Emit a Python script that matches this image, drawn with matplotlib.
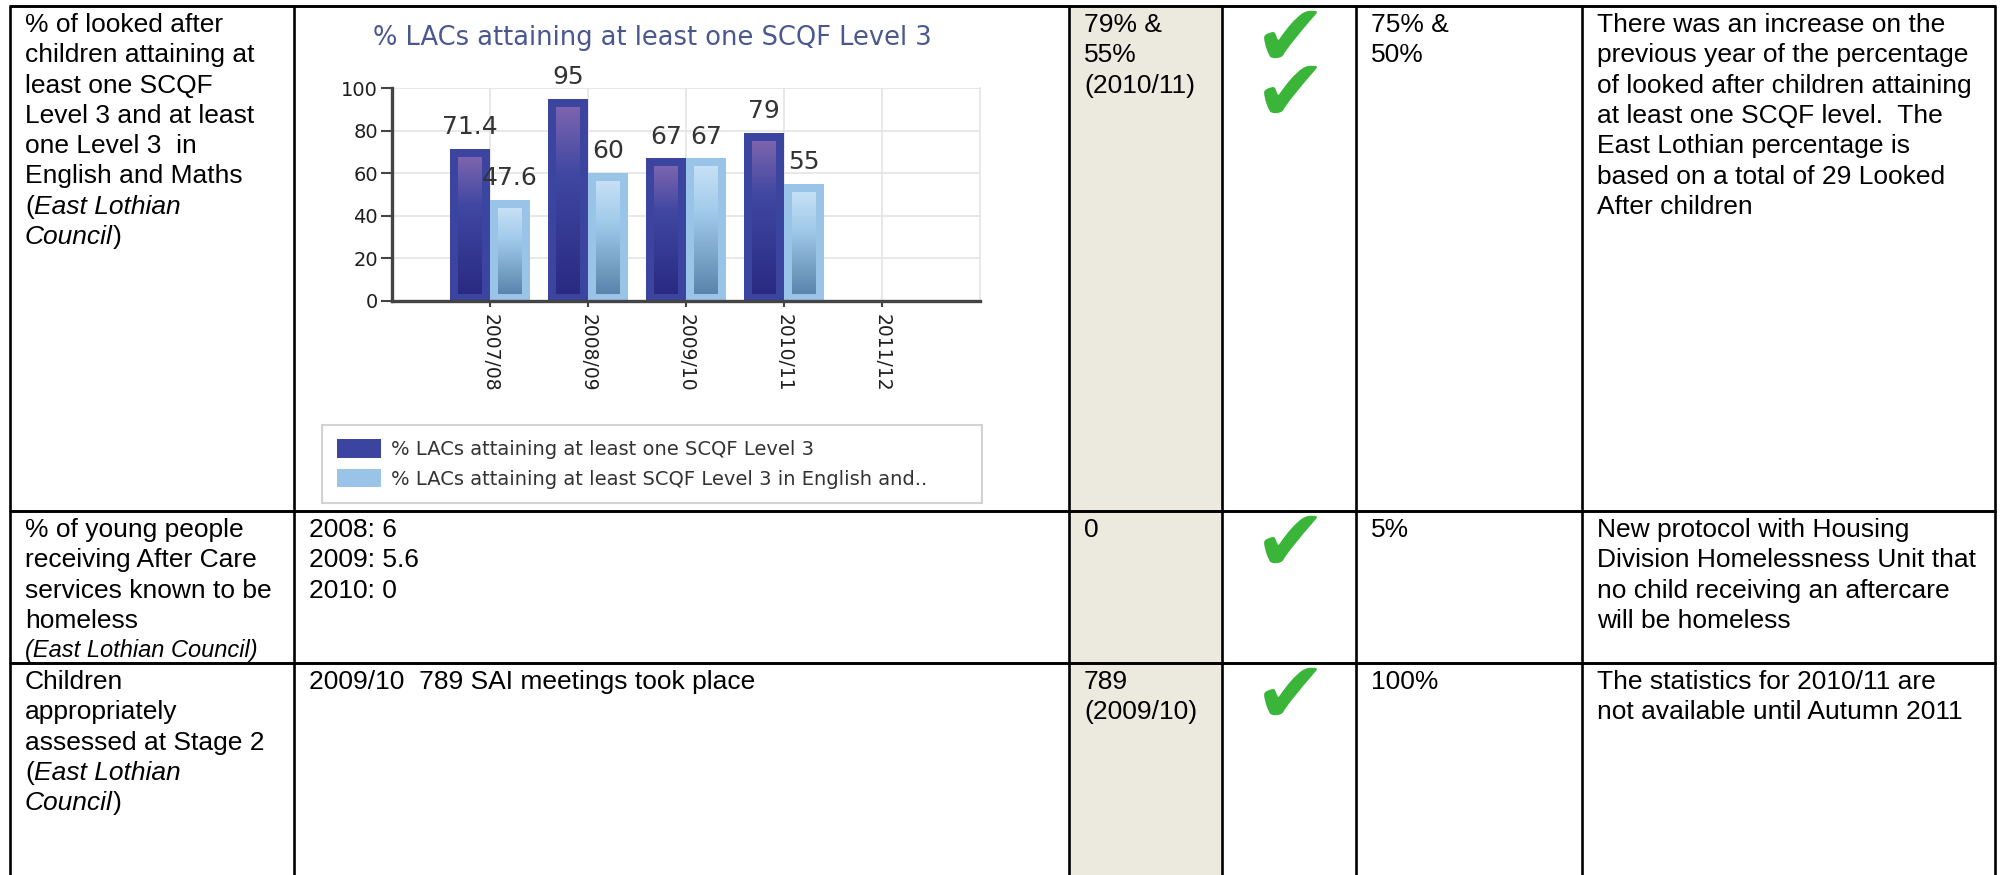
import matplotlib
matplotlib.use("Agg")
import matplotlib.pyplot as plt
import numpy as np
from matplotlib.colors import LinearSegmentedColormap

# chart data
years = ["2007/08", "2008/09", "2009/10", "2010/11", "2011/12"]
any_level3 = [71.4, 95, 67, 79]
eng_maths = [47.6, 60, 67, 55]
series_names = ["% LACs attaining at least one SCQF Level 3",
                "% LACs attaining at least SCQF Level 3 in English and.."]
chart_title = "% LACs attaining at least one SCQF Level 3"

# table text, one list of lines per cell (a line may be list of (text, style))
N, I = "normal", "italic"
row1 = {
    0: ["% of looked after", "children attaining at", "least one SCQF",
        "Level 3 and at least", "one Level 3  in", "English and Maths",
        [("(", N), ("East Lothian", I)], [("Council", I), (")", N)]],
    2: ["79% &", "55%", "(2010/11)"],
    4: ["75% &", "50%"],
    5: ["There was an increase on the", "previous year of the percentage",
        "of looked after children attaining", "at least one SCQF level.  The",
        "East Lothian percentage is", "based on a total of 29 Looked",
        "After children"],
}
row2 = {
    0: ["% of young people", "receiving After Care", "services known to be",
        "homeless"],
    1: ["2008: 6", "2009: 5.6", "2010: 0"],
    2: ["0"],
    4: ["5%"],
    5: ["New protocol with Housing", "Division Homelessness Unit that",
        "no child receiving an aftercare", "will be homeless"],
}
row3 = {
    0: ["Children", "appropriately", "assessed at Stage 2",
        [("(", N), ("East Lothian", I)], [("Council", I), (")", N)]],
    1: ["2009/10  789 SAI meetings took place"],
    2: ["789", "(2009/10)"],
    4: ["100%"],
    5: ["The statistics for 2010/11 are", "not available until Autumn 2011"],
}
rows = [row1, row2, row3]
ticks_per_row = [2, 1, 1]

# layout (pixels)
W, H = 2001, 875
col_x = [10, 294, 1069, 1222, 1356, 1582, 1995]
row_y = [6, 511, 663, H]
text_pad = 15
line_h = 30.3

fig = plt.figure(figsize=(W / 100, H / 100), dpi=100)
ax0 = fig.add_axes([0, 0, 1, 1])
ax0.set_xlim(0, W)
ax0.set_ylim(H, 0)
ax0.axis("off")
renderer = fig.canvas.get_renderer()

ax0.fill_between([col_x[2], col_x[3]], row_y[0], H, color="#ece9df", lw=0)
for x in col_x:
    ax0.plot([x, x], [row_y[0], H], color="black", lw=1.9, solid_capstyle="butt")
for y in row_y[:-1]:
    ax0.plot([col_x[0] - 1, col_x[-1] + 1], [y, y], color="black", lw=2.1,
             solid_capstyle="butt")


def put_line(x, y, line, size=19):
    parts = [(line, N)] if isinstance(line, str) else line
    for txt, style in parts:
        t = ax0.text(x, y, txt, fontsize=size, fontstyle=style,
                     family="Liberation Sans", va="baseline", ha="left")
        x += t.get_window_extent(renderer=renderer).width


for r, cells in enumerate(rows):
    top = row_y[r]
    for c, lines in cells.items():
        for k, line in enumerate(lines):
            put_line(col_x[c] + text_pad, top + 26 + k * line_h, line)
    for k in range(ticks_per_row[r]):
        ax0.plot((col_x[3] + col_x[4]) / 2 + 1, top + 28 + k * 55,
                 marker="$\u2714$", markersize=38, color="#3ab53a",
                 markeredgewidth=0)

# small italic source line in row 2
put_line(col_x[0] + text_pad, row_y[1] + 26 + 4 * line_h - 1,
         [("(East Lothian Council)", I)], size=17)

# ---- embedded bar chart ----
ax0.text(652, 38, chart_title, fontsize=18.5, color="#4b5890",
         family="DejaVu Sans", ha="center", va="center")

ax = fig.add_axes([392 / W, 1 - 301 / H, (980 - 392) / W, (301 - 88) / H])
x = np.arange(len(any_level3))
bw = 0.41
dark = "#3b45a0"
light = "#99c4e8"
b1 = ax.bar(x - bw / 2, any_level3, bw, color=dark, zorder=2, label=series_names[0])
b2 = ax.bar(x + bw / 2, eng_maths, bw, color=light, zorder=2, label=series_names[1])

cm_dark = LinearSegmentedColormap.from_list(
    "d", [(0, "#7c64ae"), (0.35, "#4048a2"), (1, "#2a2a82")])
cm_light = LinearSegmentedColormap.from_list(
    "l", [(0, "#c6e0f5"), (0.35, "#a2cbeb"), (1, "#5b84ad")])
grad = np.linspace(0, 1, 200).reshape(-1, 1)
inner = 0.24
for bars, cmap in ((b1, cm_dark), (b2, cm_light)):
    for rect in bars:
        cx = rect.get_x() + rect.get_width() / 2
        h = rect.get_height()
        ax.imshow(grad, cmap=cmap, extent=(cx - inner / 2, cx + inner / 2, 3.5, h - 3.8),
                  aspect="auto", origin="upper", zorder=3, interpolation="bilinear")

for bars in (b1, b2):
    ax.bar_label(bars, fmt="%g", padding=7, fontsize=18, color="#333333",
                 family="DejaVu Sans")

ax.set_xlim(-1, len(years))
ax.set_ylim(0, 100)
ax.set_xticks(range(len(years)))
ax.set_xticklabels(years, rotation=-90, va="top", ha="center",
                   fontsize=13.5, color="#1e1e1e", family="DejaVu Sans")
ax.set_yticks(range(0, 101, 20))
ax.set_yticklabels([str(v) for v in range(0, 101, 20)], fontsize=14,
                   color="#1e1e1e", family="DejaVu Sans")
ax.tick_params(axis="y", length=8, width=1.5, color="#444444", pad=2)
ax.tick_params(axis="x", length=4, width=1.5, color="#444444", pad=5)
ax.grid(True, color="#e4e4e4", lw=1.2, zorder=0)
ax.set_axisbelow(True)
for s in ("left", "bottom"):
    ax.spines[s].set_color("#444444")
    ax.spines[s].set_linewidth(2.4)
ax.spines["top"].set_visible(False)
ax.spines["right"].set_color("#e4e4e4")
ax.spines["right"].set_linewidth(1.2)

leg = fig.legend(handles=[b1, b2], labels=series_names, loc="upper left",
                 bbox_to_anchor=(322 / W, 1 - 425 / H, 660 / W, 0.0001),
                 mode="expand", borderaxespad=0,
                 handlelength=2.3, handleheight=1.05, handletextpad=0.5,
                 labelspacing=0.5, borderpad=0.75, fancybox=False,
                 edgecolor="#d2d2d2", framealpha=1,
                 prop={"family": "DejaVu Sans", "size": 14})
leg.get_frame().set_linewidth(1.5)
for t in leg.get_texts():
    t.set_color("#333333")

fig.savefig("out.png", dpi=100)
